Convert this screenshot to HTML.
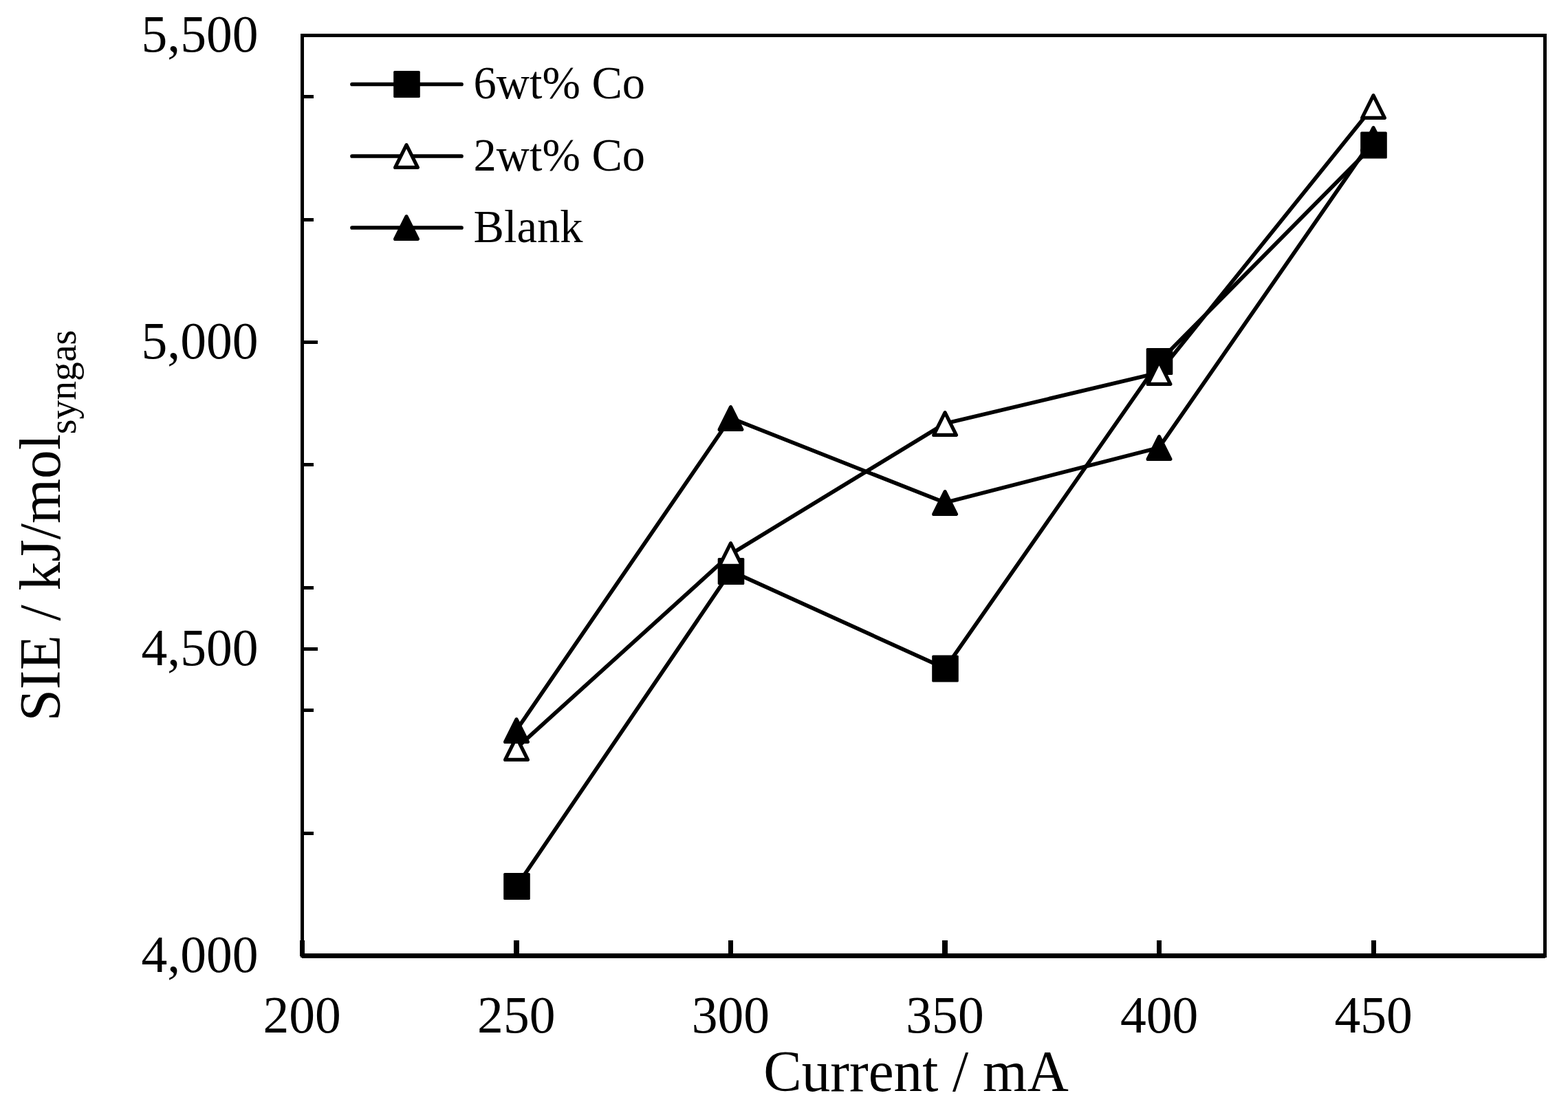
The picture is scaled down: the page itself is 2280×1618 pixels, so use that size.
<!DOCTYPE html>
<html lang="en"><head><meta charset="utf-8"><title>SIE vs Current</title>
<style>
html,body{margin:0;padding:0;background:#fff;}
body{width:2280px;height:1618px;overflow:hidden;}
svg{display:block;}
text{font-family:"Liberation Serif",serif;fill:#000;}
.tk{font-size:75px;}
.lg{font-size:66.67px;}
.tt{font-size:83.33px;}
.sb{font-size:55.5px;}
</style></head><body>
<svg width="2280" height="1618" viewBox="0 0 2280 1618">
<rect x="0" y="0" width="2280" height="1618" fill="#fff"/>
<g shape-rendering="crispEdges" fill="#000">
<rect x="437" y="49" width="1812" height="5"/>
<rect x="437" y="49" width="5" height="1343"/>
<rect x="2244" y="49" width="5" height="1343"/>
<rect x="439" y="1386" width="1808" height="7"/>
<rect x="440" y="1387" width="22" height="5"/>
<rect x="440" y="1209" width="16" height="5"/>
<rect x="440" y="1030" width="16" height="5"/>
<rect x="440" y="941" width="22" height="5"/>
<rect x="440" y="852" width="16" height="5"/>
<rect x="440" y="673" width="16" height="5"/>
<rect x="440" y="495" width="22" height="5"/>
<rect x="440" y="317" width="16" height="5"/>
<rect x="440" y="138" width="16" height="5"/>
<rect x="440" y="49" width="22" height="5"/>
<rect x="436" y="1367" width="7" height="23"/>
<rect x="747" y="1367" width="8" height="23"/>
<rect x="1059" y="1367" width="7" height="23"/>
<rect x="1370" y="1367" width="8" height="23"/>
<rect x="1682" y="1367" width="7" height="23"/>
<rect x="1994" y="1367" width="7" height="23"/>
</g>
<g class="tk" text-anchor="end">
<text  transform="translate(375.60 1412.50) scale(1.008 1.018)">4,000</text>
<text  transform="translate(375.60 966.50) scale(1.008 1.018)">4,500</text>
<text  transform="translate(375.60 520.50) scale(1.008 1.018)">5,000</text>
<text  transform="translate(375.60 74.50) scale(1.008 1.018)">5,500</text>
</g>
<g class="tk" text-anchor="middle">
<text  transform="translate(439.20 1500.50) scale(1.008 1.018)">200</text>
<text  transform="translate(750.80 1500.50) scale(1.008 1.018)">250</text>
<text  transform="translate(1062.40 1500.50) scale(1.008 1.018)">300</text>
<text  transform="translate(1374.00 1500.50) scale(1.008 1.018)">350</text>
<text  transform="translate(1685.60 1500.50) scale(1.008 1.018)">400</text>
<text  transform="translate(1997.20 1500.50) scale(1.008 1.018)">450</text>
</g>
<text class="tt" text-anchor="middle" transform="translate(1332.00 1585.60) scale(0.998 1.024)">Current / mA</text>
<text class="tt" transform="translate(86.5 1048.6) rotate(-90) scale(1.002 1.024)" x="0" y="0">SIE / kJ/mol<tspan class="sb" dy="22.7">syngas</tspan></text>
<g>
<polyline points="751.50,1288.50 1063.00,830.50 1374.50,972.00 1686.00,525.50 1997.50,211.00" fill="none" stroke="#000" stroke-width="5.7" stroke-linejoin="round" stroke-linecap="round" transform="translate(-0.2 -0.3)"/>
<rect x="732.20" y="1269.00" width="38.6" height="39.0" rx="1.6" fill="#000"/>
<rect x="1043.70" y="811.00" width="38.6" height="39.0" rx="1.6" fill="#000"/>
<rect x="1355.20" y="952.50" width="38.6" height="39.0" rx="1.6" fill="#000"/>
<rect x="1666.70" y="506.00" width="38.6" height="39.0" rx="1.6" fill="#000"/>
<rect x="1978.20" y="191.50" width="38.6" height="39.0" rx="1.6" fill="#000"/>
<polyline points="751.00,1088.00 1062.50,806.00 1374.10,616.00 1685.50,542.00 1997.00,155.00" fill="none" stroke="#000" stroke-width="5.7" stroke-linejoin="round" stroke-linecap="round" transform="translate(-0.2 -0.3)"/>
<path d="M751.00 1071.60L767.35 1104.40L734.65 1104.40Z" fill="#fff" stroke="#000" stroke-width="5.2" stroke-linejoin="round"/>
<path d="M1062.50 789.60L1078.85 822.40L1046.15 822.40Z" fill="#fff" stroke="#000" stroke-width="5.2" stroke-linejoin="round"/>
<path d="M1374.10 599.60L1390.45 632.40L1357.75 632.40Z" fill="#fff" stroke="#000" stroke-width="5.2" stroke-linejoin="round"/>
<path d="M1685.50 525.60L1701.85 558.40L1669.15 558.40Z" fill="#fff" stroke="#000" stroke-width="5.2" stroke-linejoin="round"/>
<path d="M1997.00 138.60L2013.35 171.40L1980.65 171.40Z" fill="#fff" stroke="#000" stroke-width="5.2" stroke-linejoin="round"/>
<polyline points="751.00,1062.00 1062.50,608.00 1374.10,731.00 1685.50,651.00 1997.00,202.00" fill="none" stroke="#000" stroke-width="5.7" stroke-linejoin="round" stroke-linecap="round" transform="translate(-0.2 -0.3)"/>
<path d="M751.00 1045.60L767.35 1078.40L734.65 1078.40Z" fill="#000" stroke="#000" stroke-width="5.2" stroke-linejoin="round"/>
<path d="M1062.50 591.60L1078.85 624.40L1046.15 624.40Z" fill="#000" stroke="#000" stroke-width="5.2" stroke-linejoin="round"/>
<path d="M1374.10 714.60L1390.45 747.40L1357.75 747.40Z" fill="#000" stroke="#000" stroke-width="5.2" stroke-linejoin="round"/>
<path d="M1685.50 634.60L1701.85 667.40L1669.15 667.40Z" fill="#000" stroke="#000" stroke-width="5.2" stroke-linejoin="round"/>
<path d="M1997.00 185.60L2013.35 218.40L1980.65 218.40Z" fill="#000" stroke="#000" stroke-width="5.2" stroke-linejoin="round"/>
</g>
<g>
<line x1="512" y1="122.5" x2="671" y2="122.5" stroke="#000" stroke-width="5.7" stroke-linecap="round"/>
<rect x="572.20" y="103.00" width="38.6" height="39.0" rx="1.6" fill="#000"/>
<text class="lg" transform="translate(688.60 143.00) scale(0.998 1.023)">6wt% Co</text>
<line x1="512" y1="227" x2="671" y2="227" stroke="#000" stroke-width="5.7" stroke-linecap="round"/>
<path d="M591.00 210.60L607.35 243.40L574.65 243.40Z" fill="#fff" stroke="#000" stroke-width="5.2" stroke-linejoin="round"/>
<text class="lg" transform="translate(688.60 247.50) scale(0.998 1.023)">2wt% Co</text>
<line x1="512" y1="331" x2="671" y2="331" stroke="#000" stroke-width="5.7" stroke-linecap="round"/>
<path d="M591.00 314.60L607.35 347.40L574.65 347.40Z" fill="#000" stroke="#000" stroke-width="5.2" stroke-linejoin="round"/>
<text class="lg" transform="translate(688.60 351.50) scale(0.998 1.023)">Blank</text>
</g>
</svg></body></html>
